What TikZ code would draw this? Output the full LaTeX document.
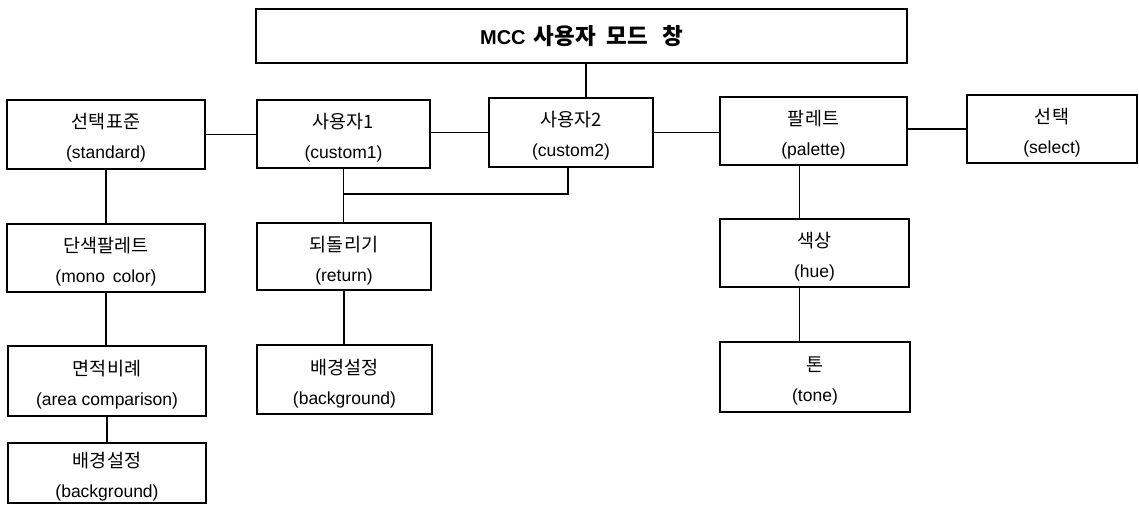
\documentclass[tikz,border=0pt]{standalone}
\usepackage{fontspec}
\setmainfont{Liberation Sans}
\newfontfamily\kr{Noto Sans CJK KR}
\newcommand\kline[1]{{\kr\fontsize{18.5}{30}\selectfont\rule{0pt}{24pt}#1}}
\newcommand\eline[1]{#1\rule[-5pt]{0pt}{0pt}}
\begin{document}
\begin{tikzpicture}[x=1pt,y=-1pt,
  box/.style={draw, line width=1.3pt, inner sep=0pt, align=center, font=\fontsize{17.5}{30}\selectfont},
  conn/.style={line width=1.1pt}]
\useasboundingbox (0,0) rectangle (1139,505);
\node[box, minimum width=651pt, minimum height=54pt, font=\fontsize{20}{24}\selectfont\bfseries] (top) at (581.5,36) {MCC\hspace{8pt}{\kr\fontsize{22.5}{24}\selectfont 사용자\hspace{11pt}모드\hspace{14pt}창}};
\node[box, minimum width=198pt, minimum height=69pt] (std) at (106,134.5) {\kline{선택표준}\\\eline{(standard)}};
\node[box, minimum width=173pt, minimum height=68pt] (c1) at (343.5,134) {\kline{사용자1}\\\eline{(custom1)}};
\node[box, minimum width=164pt, minimum height=69pt] (c2) at (571,132.5) {\kline{사용자2}\\\eline{(custom2)}};
\node[box, minimum width=187pt, minimum height=68pt] (pal) at (813.5,131) {\kline{팔레트}\\\eline{(palette)}};
\node[box, minimum width=170pt, minimum height=68pt] (sel) at (1052,129) {\kline{선택}\\\eline{(select)}};
\node[box, minimum width=198pt, minimum height=68pt] (mono) at (106,258) {\kline{단색팔레트}\\\eline{(mono\ \,color)}};
\node[box, minimum width=174pt, minimum height=67pt] (ret) at (344,256.5) {\kline{되돌리기}\\\eline{(return)}};
\node[box, minimum width=189pt, minimum height=68pt] (hue) at (814.5,253) {\kline{색상}\\\eline{(hue)}};
\node[box, minimum width=198pt, minimum height=70pt] (area) at (107,381) {\kline{면적비례}\\\eline{(area comparison)}};
\node[box, minimum width=175pt, minimum height=69pt] (bg1) at (344.5,379.5) {\kline{배경설정}\\\eline{(background)}};
\node[box, minimum width=190pt, minimum height=70pt] (tone) at (815,377) {\kline{톤}\\\eline{(tone)}};
\node[box, minimum width=198pt, minimum height=60pt] (bg2) at (107,473) {\kline{배경설정}\\\eline{(background)}};
\coordinate (j) at (c1.south |- 0,194);
\draw[conn] ([xshift=15pt]c2.north) -- ([xshift=15pt]c2.north |- top.south);
\draw[conn] (std.east) -- (std.east -| c1.west);
\draw[conn] (c2.west) -- (c2.west -| c1.east);
\draw[conn] (c2.east) -- (c2.east -| pal.west);
\draw[conn] (sel.west) -- (sel.west -| pal.east);
\draw[conn] (std.south) -- (std.south |- mono.north);
\draw[conn] (mono.south) -- (mono.south |- area.north);
\draw[conn] (area.south) -- (area.south |- bg2.north);
\draw[conn] (c1.south) -- (c1.south |- ret.north);
\draw[conn] (j) -| ([xshift=-3pt]c2.south);
\draw[conn] (ret.south) -- (ret.south |- bg1.north);
\draw[conn] ([xshift=-14pt]pal.south) -- ([xshift=-14pt]pal.south |- hue.north);
\draw[conn] ([xshift=-15pt]hue.south) -- ([xshift=-15pt]hue.south |- tone.north);
\end{tikzpicture}
\end{document}
